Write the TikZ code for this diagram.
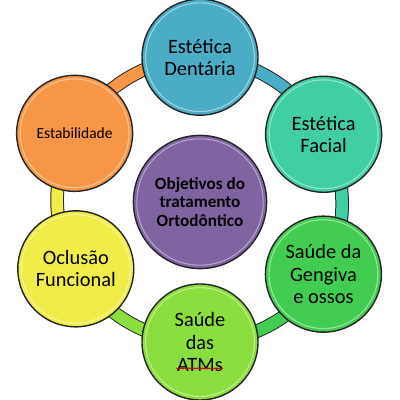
\documentclass[tikz,border=0pt]{standalone}
\usepackage{fontspec}
\setmainfont{Carlito}
\usetikzlibrary{positioning,backgrounds,decorations.pathmorphing}
\definecolor{otblue}{RGB}{75,172,198}
\definecolor{otteal}{RGB}{64,206,164}
\definecolor{otgreen}{RGB}{66,204,82}
\definecolor{otlime}{RGB}{138,222,62}
\definecolor{otyellow}{RGB}{240,236,72}
\definecolor{otorange}{RGB}{247,150,70}
\definecolor{otpurple}{RGB}{128,100,162}
\definecolor{otline}{RGB}{38,38,38}
\tikzset{
  otGoal/.style={circle, draw=otline, line width=1pt, fill=#1,
                 minimum size=2.9cm, inner sep=0pt, align=center,
                 font=\fontsize{14.5}{15.8}\selectfont,
                 path picture={\draw[white, opacity=0.45, line width=0.8pt]
                   (path picture bounding box.center) circle (1.36cm);}},
  otHub/.style={circle, draw=otline, line width=1pt, fill=otpurple,
                minimum size=3.33cm, inner sep=0pt, align=center,
                font=\fontsize{12.2}{13}\selectfont\bfseries,
                path picture={\draw[white, opacity=0.4, line width=0.8pt]
                  (path picture bounding box.center) circle (1.58cm);}},
  otLink/.style={draw=otline, line width=0.7pt, double=#1,
                 double distance=8.3pt, bend left=30, looseness=0.91},
  otSpell/.style={draw=red!80!black, line width=0.5pt, decorate,
                  decoration={snake, amplitude=0.35pt, segment length=1.4pt}}
}

\begin{document}
\begin{tikzpicture}
  \useasboundingbox (-5,-5) rectangle (5,5);
  \node[otHub] (hub) at (0,-0.05) {Objetivos do\\tratamento\\Ortodôntico};
  \node[otGoal=otblue] (dent) at (90:3.57) {Estética\\Dentária};
  \node[otGoal=otteal] (facial) at (28:3.5) {Estética\\Facial};
  \node[otGoal=otgreen] (geng) at (-31:3.6) {Saúde da\\Gengiva\\e ossos};
  \node[otGoal=otlime] (atm) at (-90:3.55) {Saúde\\das\\ATMs};
  \node[otGoal=otyellow] (oclu) at (209:3.55) {Oclusão\\Funcional};
  \node[otGoal=otorange, font=\fontsize{11}{12}\selectfont] (estab) at (152:3.55) {Estabilidade};
  % ring between the goals
  \begin{scope}[on background layer]
    \draw[otLink=otorange] (estab.center) to (dent.center);
    \draw[otLink=otblue] (dent.center) to (facial.center);
    \draw[otLink=otteal] (facial.center) to (geng.center);
    \draw[otLink=otgreen] (geng.center) to (atm.center);
    \draw[otLink=otlime] (atm.center) to (oclu.center);
    \draw[otLink=otyellow] (oclu.center) to (estab.center);
  \end{scope}
  \draw[otSpell] ([shift={(-0.6,-0.66)}]atm.center) -- ([shift={(0.58,-0.66)}]atm.center);
\end{tikzpicture}
\end{document}
